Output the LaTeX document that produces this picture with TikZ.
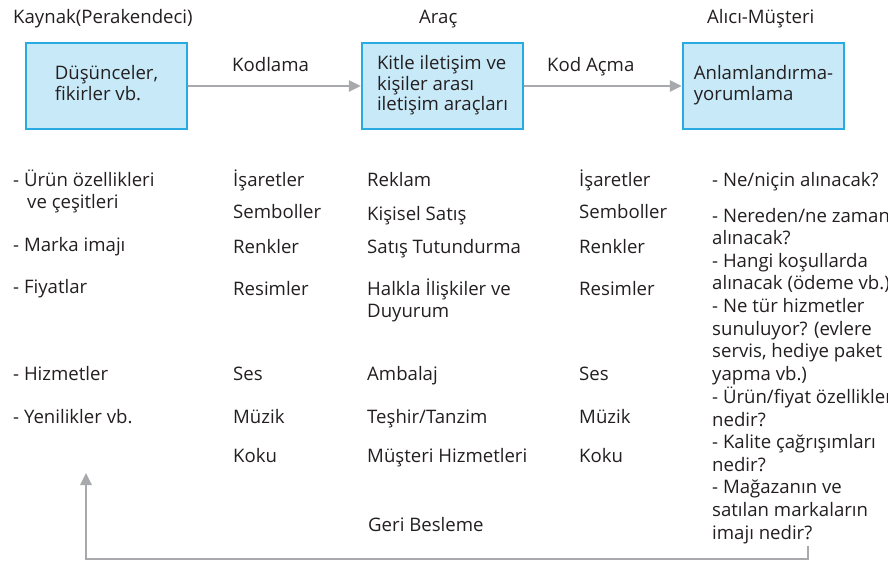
\documentclass[tikz,border=0pt]{standalone}
\usepackage{fontspec}
\setmainfont{Open Sans}
\usetikzlibrary{arrows.meta}
\definecolor{ink}{HTML}{231F20}
\definecolor{boxfill}{HTML}{C8E9F8}
\definecolor{boxline}{HTML}{29ABE2}
\definecolor{flow}{HTML}{A7A9AC}
% left-aligned stack of lines whose baseline is the first line
\newcommand{\txtlines}[1]{\begin{tabular}[t]{@{}l@{}}#1\end{tabular}}
\newcommand{\bodyfont}{\fontsize{18.6}{22.6}\selectfont}
\newcommand{\boxfont}{\fontsize{18.6}{20.3}\selectfont}

\begin{document}
\begin{tikzpicture}[x=1pt,y=-1pt,
  lbl/.style={anchor=base west, inner sep=0pt, text=ink, font=\bodyfont},
  msgbox/.style={draw=boxline, fill=boxfill, line width=2.5pt,
    minimum width=161pt, minimum height=86pt, inner sep=0pt,
    text=ink, font=\boxfont},
  flowarrow/.style={draw=flow, line width=2.5pt,
    -{Triangle[length=12pt,width=11pt]}}
]
\useasboundingbox (0,0) rectangle (888,564);
\clip (0,0) rectangle (888,564);

% column headings
\node[lbl] (hsrc) at (13,24) {Kaynak(Perakendeci)};
\node[lbl] (hmed) at (419,24) {Araç};
\node[lbl] (hrcv) at (707,24) {Alıcı-Müşteri};

% the three stages
\node[msgbox] (src) at (106.5,86) {\txtlines{Düşünceler,\\fikirler vb.}};
\node[msgbox] (med) at (442.5,86) {\txtlines{Kitle iletişim ve\\kişiler arası\\iletişim araçları}};
\node[msgbox] (rcv) at (763.5,86) {\txtlines{Anlamlandırma-\\yorumlama}};

\draw[flowarrow] (src) -- (med);
\draw[flowarrow] (med) -- (rcv);
\node[lbl] (enc) at (232,72) {Kodlama};
\node[lbl] (dec) at (547,72) {Kod Açma};

% message content
\node[lbl] (c1a) at (13,186) {\txtlines{- Ürün özellikleri\\\hspace*{14pt}ve çeşitleri}};
\node[lbl] (c1b) at (13,251) {- Marka imajı};
\node[lbl] (c1c) at (13,293) {- Fiyatlar};
\node[lbl] (c1d) at (13,380) {- Hizmetler};
\node[lbl] (c1e) at (13,423) {- Yenilikler vb.};

% encoding signs
\node[lbl] (c2a) at (233,186) {İşaretler};
\node[lbl] (c2b) at (233,218) {Semboller};
\node[lbl] (c2c) at (233,253) {Renkler};
\node[lbl] (c2d) at (233,295) {Resimler};
\node[lbl] (c2e) at (233,380) {Ses};
\node[lbl] (c2f) at (233,423) {Müzik};
\node[lbl] (c2g) at (233,462) {Koku};

% channels
\node[lbl] (c3a) at (367,186) {Reklam};
\node[lbl] (c3b) at (367,220) {Kişisel Satış};
\node[lbl] (c3c) at (367,253) {Satış Tutundurma};
\node[lbl] (c3d) at (367,295) {\txtlines{Halkla İlişkiler ve\\Duyurum}};
\node[lbl] (c3e) at (367,380) {Ambalaj};
\node[lbl] (c3f) at (367,423) {Teşhir/Tanzim};
\node[lbl] (c3g) at (367,462) {Müşteri Hizmetleri};
\node[lbl] (fb) at (368,531) {Geri Besleme};

% decoding signs
\node[lbl] (c4a) at (579,186) {İşaretler};
\node[lbl] (c4b) at (579,218) {Semboller};
\node[lbl] (c4c) at (579,253) {Renkler};
\node[lbl] (c4d) at (579,295) {Resimler};
\node[lbl] (c4e) at (579,380) {Ses};
\node[lbl] (c4f) at (579,423) {Müzik};
\node[lbl] (c4g) at (579,462) {Koku};

% receiver questions
\node[lbl] (c5) at (712,186) {\txtlines{- Ne/niçin alınacak?\\[13.4pt]
- Nereden/ne zaman\\alınacak?\\- Hangi koşullarda\\alınacak (ödeme vb.)\\
- Ne tür hizmetler\\sunuluyor? (evlere\\servis, hediye paket\\yapma vb.)\\
- Ürün/fiyat özellikleri\\nedir?\\- Kalite çağrışımları\\nedir?\\
- Mağazanın ve\\satılan markaların\\imajı nedir?}};

% feedback loop
\coordinate (fbtop) at (808,546);
\coordinate (fbcorner) at (86,559);
\coordinate (fbtip) at (86,473);
\draw[flowarrow] (fbtop) |- (fbcorner) -- (fbtip);
\end{tikzpicture}
\end{document}
